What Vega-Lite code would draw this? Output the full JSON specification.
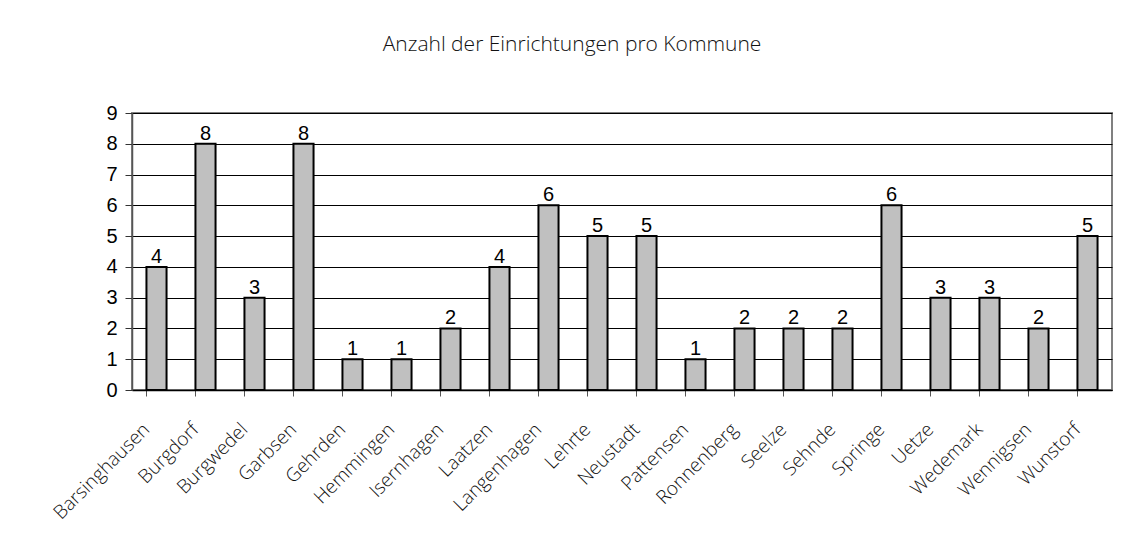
{
  "$schema": "https://vega.github.io/schema/vega-lite/v6.json",
  "width": 980,
  "height": 277,
  "autosize": {"type": "none"},
  "padding": {"left": 132, "top": 113, "right": 10, "bottom": 166},
  "background": "white",
  "title": {
    "text": "Anzahl der Einrichtungen pro Kommune",
    "font": "Open Sans",
    "fontSize": 21,
    "fontWeight": 300,
    "color": "#111111",
    "anchor": "middle",
    "dx": -50,
    "offset": 48
  },
  "data": {
    "values": [
      {"kommune": "Barsinghausen", "anzahl": 4},
      {"kommune": "Burgdorf", "anzahl": 8},
      {"kommune": "Burgwedel", "anzahl": 3},
      {"kommune": "Garbsen", "anzahl": 8},
      {"kommune": "Gehrden", "anzahl": 1},
      {"kommune": "Hemmingen", "anzahl": 1},
      {"kommune": "Isernhagen", "anzahl": 2},
      {"kommune": "Laatzen", "anzahl": 4},
      {"kommune": "Langenhagen", "anzahl": 6},
      {"kommune": "Lehrte", "anzahl": 5},
      {"kommune": "Neustadt", "anzahl": 5},
      {"kommune": "Pattensen", "anzahl": 1},
      {"kommune": "Ronnenberg", "anzahl": 2},
      {"kommune": "Seelze", "anzahl": 2},
      {"kommune": "Sehnde", "anzahl": 2},
      {"kommune": "Springe", "anzahl": 6},
      {"kommune": "Uetze", "anzahl": 3},
      {"kommune": "Wedemark", "anzahl": 3},
      {"kommune": "Wennigsen", "anzahl": 2},
      {"kommune": "Wunstorf", "anzahl": 5}
    ]
  },
  "encoding": {
    "x": {
      "field": "kommune",
      "type": "nominal",
      "sort": null,
      "title": null,
      "scale": {"paddingInner": 0.59, "paddingOuter": 0.295},
      "axis": {
        "bandPosition": 0,
        "labelAngle": -45,
        "labelAlign": "right",
        "labelBaseline": "middle",
        "labelFont": "Open Sans",
        "labelFontWeight": 300,
        "labelFontSize": 19,
        "labelColor": "#111111",
        "labelPadding": 30,
        "labelOffset": -10,
        "labelOverlap": false,
        "tickSize": 6,
        "tickColor": "#555555",
        "domainColor": "#000000",
        "domainWidth": 1.5,
        "grid": false
      }
    },
    "y": {
      "field": "anzahl",
      "type": "quantitative",
      "title": null,
      "scale": {"domain": [0, 9], "nice": false},
      "axis": {
        "values": [0, 1, 2, 3, 4, 5, 6, 7, 8, 9],
        "labelFont": "Liberation Sans",
        "labelFontSize": 20,
        "labelColor": "#000000",
        "labelPadding": 8,
        "tickSize": 7,
        "tickColor": "#333333",
        "domainColor": "#555555",
        "domainWidth": 1.5,
        "grid": true,
        "gridColor": "#000000",
        "gridOpacity": 1,
        "gridWidth": 1
      }
    }
  },
  "layer": [
    {
      "mark": {"type": "bar", "fill": "#c0c0c0", "stroke": "#000000", "strokeWidth": 2}
    },
    {
      "mark": {"type": "text", "font": "Liberation Sans", "fontSize": 20, "baseline": "alphabetic", "dy": -4, "color": "#000000"},
      "encoding": {"text": {"field": "anzahl", "type": "quantitative"}}
    }
  ],
  "config": {
    "view": {"stroke": "#808080", "strokeWidth": 2}
  }
}
